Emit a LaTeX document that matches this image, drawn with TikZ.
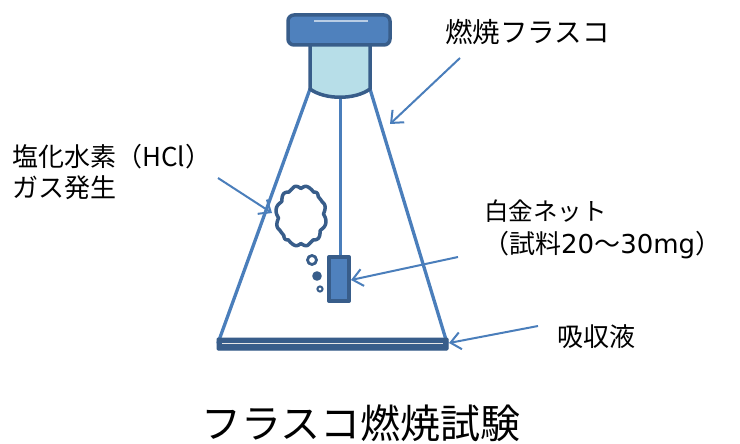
\documentclass[tikz,border=0pt]{standalone}
\usepackage{fontspec}
\newfontfamily\jpfont{Noto Sans CJK JP}
\newfontfamily\latinfont{DejaVu Sans}
\usetikzlibrary{arrows.meta}
\definecolor{lineblue}{RGB}{74,126,187}
\definecolor{darkblue}{RGB}{56,93,138}
\definecolor{capfill}{RGB}{79,129,189}
\definecolor{neckfill}{RGB}{183,222,232}
\tikzset{
  flaskline/.style={draw=lineblue, line width=3.3pt, line cap=round},
  pointer/.style={draw=lineblue, line width=2pt,
    -{Straight Barb[length=10pt,width=17pt,line width=2pt]}},
  outline/.style={draw=darkblue, line width=3.5pt, line join=round},
  label/.style={inner sep=0pt, anchor=west, text=black,
    font=\jpfont\fontsize{26}{30}\selectfont},
}
\begin{document}
\begin{tikzpicture}[x=1pt, y=-1pt]
\useasboundingbox[fill=white] (0,0) rectangle (740,444);

% flask walls and the wire holding the sample
\draw[flaskline] (310,89) -- (218,343);
\draw[flaskline] (370,89) -- (447,343);
\draw[flaskline, line width=3pt] (340,97) -- (340,258);

% neck of the flask
\draw[outline, fill=neckfill] (310,44) -- (310,89)
  .. controls (325,100) and (355,100) .. (370,89) -- (370,44);

% stopper
\draw[outline, fill=capfill, rounded corners=6pt] (288,15) rectangle (390,45);
\draw[draw=white!60!capfill, line width=1.5pt] (314,21) -- (368,21);

% absorbing liquid at the bottom
\draw[draw=darkblue, fill=darkblue, line width=1pt, rounded corners=1pt]
  (217,338) rectangle (448,350);
\draw[draw=white!80!gray, line width=1.2pt] (222,343.5) -- (443,343.5);

% platinum net with the sample
\draw[outline, line width=4pt, fill=capfill] (329,257) rectangle (349,301);

% gas cloud and bubbles
\draw[outline, line width=3.5pt] plot[domain=0:360, samples=300, smooth]
  ({301+cos(\x)*(22.5+3*abs(sin(5*\x+20)))}, {216+sin(\x)*(27.5+3*abs(sin(6*\x)))}) -- cycle;
\draw[outline, line width=2.8pt] (312,260) circle (4.5pt);
\draw[outline, line width=2pt, fill=darkblue] (317,276) circle (3.8pt);
\draw[outline, line width=2pt] (320,289) circle (2.6pt);

% labels
\node[label, font=\jpfont\fontsize{27.5}{30}\selectfont] (flask) at (445,32) {燃焼フラスコ};
\node[label] (hcl1) at (12,157) {塩化水素（HCl）};
\node[label] (hcl2) at (12,188) {ガス発生};
\node[label, font=\jpfont\fontsize{24.5}{30}\selectfont] (net1) at (484,211) {白金ネット};
\node[label] (net2) at (483,245) {（試料{\latinfont 20}～{\latinfont 30mg}）};
\node[label] (liq) at (557,337) {吸収液};
\node[inner sep=0pt, text=black, font=\jpfont\fontsize{40}{44}\selectfont]
  (title) at (361,423) {フラスコ燃焼試験};

% pointer arrows
\coordinate (p1s) at (460,58);   \coordinate (p1e) at (390,124);
\coordinate (p2s) at (218,178);  \coordinate (p2e) at (272,213);
\coordinate (p3s) at (458,257);  \coordinate (p3e) at (351,280);
\coordinate (p4s) at (538,326);  \coordinate (p4e) at (449,343);
\draw[pointer] (p1s) -- (p1e);
\draw[pointer] (p2s) -- (p2e);
\draw[pointer] (p3s) -- (p3e);
\draw[pointer] (p4s) -- (p4e);
\end{tikzpicture}
\end{document}
